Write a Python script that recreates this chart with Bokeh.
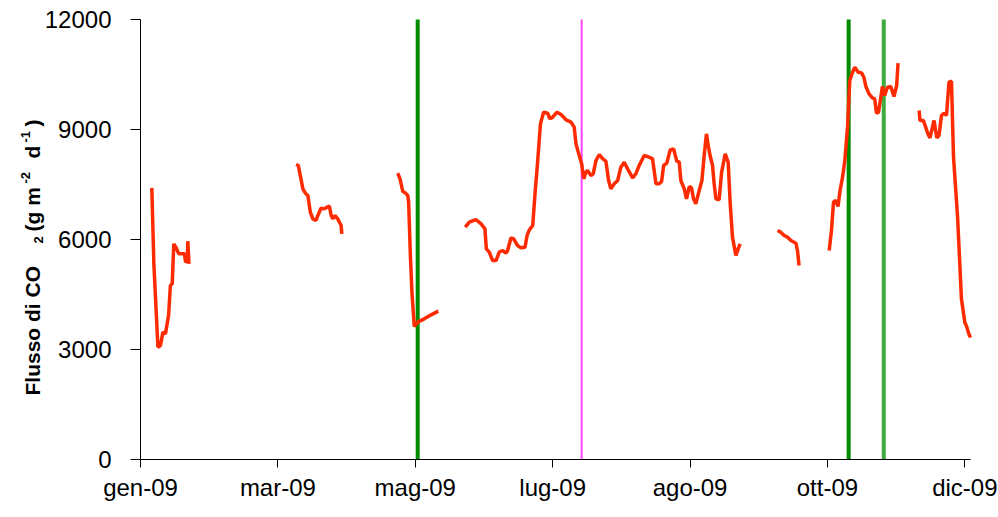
import math
from bokeh.plotting import figure
from bokeh.models import ColumnDataSource, FixedTicker, Label, Range1d
from bokeh.embed import file_html
from bokeh.resources import INLINE

NaN = float("nan")

# Daily CO2 flux, days counted from 1 Jan 2009; NaN marks gaps in the record
flux_day = [
    5.0, 5.9, 7.7, 8.8, 9.9, 11.0, 12.4, 13.2, 14.0, 14.7, 15.8, 16.9, 19.4, 19.9, 20.6, 20.9, 21.4,
    NaN,
    68.7, 69.7, 71.7, 72.8, 73.9, 75.0, 76.1, 77.5, 78.3, 79.7, 81.2, 82.4, 83.4, 84.2, 84.9, 85.9,
    87.1, 87.8, 88.6, 88.9,
    NaN,
    113.6, 114.6, 115.8, 116.9, 118.0, 118.4, 119.2, 119.9, 120.9, 122.4, 125.3, 128.3, 131.5,
    NaN,
    143.4, 145.2, 148.1, 150.4, 152.1, 152.7, 154.0, 155.5, 157.0, 158.4, 159.9, 161.4, 162.1, 163.6,
    164.8, 166.5, 168.0, 169.8, 170.7, 171.7, 173.2, 174.2, 175.4, 176.6, 178.0, 179.8, 180.8, 182.0,
    183.9, 185.7, 187.9, 190.1, 191.5, 192.3, 193.5, 194.8, 195.7, 196.7, 197.4, 198.9, 199.9, 201.1,
    202.6, 204.1, 205.5, 206.7, 207.7, 209.2, 210.7, 212.1, 213.6, 215.1, 217.3, 218.7, 220.2, 222.4,
    224.6, 226.1, 227.6, 229.0, 230.1, 231.0, 232.4, 233.9, 235.4, 236.8, 237.9, 238.6, 240.1, 241.1,
    242.3, 243.3, 244.2, 245.2, 246.7, 247.9, 248.9, 249.9, 250.7, 251.5, 252.6, 253.3, 254.1, 255.5,
    256.6, 258.2, 259.5, 260.4, 261.4, 262.9, 263.9, 264.8,
    NaN,
    281.3, 282.7, 284.2, 285.7, 287.2, 289.4, 290.1, 290.8,
    NaN,
    304.1, 305.1, 306.0, 307.0, 308.0, 308.9, 310.0, 311.0, 312.2, 313.2, 314.4, 315.4, 316.9, 318.4,
    319.5, 320.3, 321.7, 323.2, 324.2, 325.0, 325.9, 326.9, 327.6, 328.6, 329.8, 331.3, 332.7, 333.9,
    334.5,
    NaN,
    343.8, 344.2, 345.7, 346.7, 347.8, 348.6, 350.4, 351.6, 352.6, 353.7, 354.8, 355.9, 357.0, 358.1,
    359.0, 360.8, 362.5, 363.1, 364.0, 364.8, 365.7, 366.5,
]

flux_value = [
    7409, 5337, 3062, 3109, 3472, 3427, 3927, 4745, 4791, 5882, 5773, 5609, 5609, 5381, 5427, 5954, 5337,
    NaN,
    8045, 8018, 7382, 7263, 7200, 6745, 6563, 6518, 6654, 6854, 6836, 6881, 6908, 6654, 6563, 6654,
    6563, 6472, 6382, 6154,
    NaN,
    7808, 7655, 7309, 7273, 7200, 7016, 5517, 4518, 3627, 3745, 3836, 3945, 4045,
    NaN,
    6336, 6472, 6545, 6427, 6291, 5745, 5654, 5427, 5427, 5654, 5699, 5627, 5699, 6046,
    6018, 5836, 5773, 5791, 6109, 6263, 6382, 7245, 8154, 9154, 9472, 9445, 9291, 9336,
    9472, 9409, 9264, 9200, 9064, 8609, 8336, 8063, 7654, 7836, 7881, 7745, 7791, 8154,
    8318, 8200, 8136, 7609, 7382, 7518, 7609, 7972, 8108, 7927, 7682, 7791, 8018, 8291,
    8245, 8200, 7518, 7518, 7582, 8018, 8082, 8445, 8473, 8136, 8108, 7609, 7382, 7109,
    7445, 7409, 7109, 6973, 7336, 7609, 8291, 8882, 8563, 8291, 8018, 7518, 7109, 7082,
    7836, 8336, 8108, 6973, 6063, 5563, 5745, 5882,
    NaN,
    6245, 6200, 6109, 6063, 5973, 5900, 5700, 5291,
    NaN,
    5700, 6245, 7016, 7064, 6900, 7336, 7700, 8154, 9064, 10336, 10563, 10700, 10563, 10545,
    10409, 10172, 9973, 9864, 9836, 9445, 9472, 9882, 10172, 9927, 10154, 10172, 9900, 10200,
    10808,
    NaN,
    9518, 9245, 9245, 9064, 8864, 8773, 9245, 8773, 8836, 9382, 9445, 9382, 10291, 10318,
    8245, 6609, 4382, 4118, 3736, 3627, 3436, 3327,
]

# Management events (days from 1 Jan 2009)
event_days = [122.4, 194.8, 312.7, 328.2]
event_colors = ["#008a00", "#ff44ff", "#008a00", "#3fab3f"]
event_widths = [4, 2, 4, 4]

# Axis ticks
month_ticks = [0, 60.667, 121.333, 182.0, 242.667, 303.333, 364.0]
month_labels = ["gen-09", "mar-09", "mag-09", "lug-09", "ago-09", "ott-09", "dic-09"]
flux_ticks = [0, 3000, 6000, 9000, 12000]

DAY_END, FLUX_TOP = 366.5, 12000
FONT = "Liberation Sans"
W, H = 998, 517

# The frame fills the whole canvas; both axes are pinned at the data origin and
# bounded to the data area, so ticks, labels and the rotated title all fit inside it.
AXIS_LEFT, AXIS_RIGHT, AXIS_TOP, AXIS_BOTTOM = 140, 970, 19, 459
days_per_px = DAY_END / (AXIS_RIGHT - AXIS_LEFT)
flux_per_px = FLUX_TOP / (AXIS_BOTTOM - AXIS_TOP)
x_lo = -AXIS_LEFT * days_per_px
x_hi = DAY_END + (W - AXIS_RIGHT) * days_per_px
y_lo = -(H - AXIS_BOTTOM) * flux_per_px
y_hi = FLUX_TOP + AXIS_TOP * flux_per_px

p = figure(
    width=W, height=H,
    output_backend="svg", toolbar_location=None,
    x_range=Range1d(x_lo, x_hi), y_range=Range1d(y_lo, y_hi),
    min_border=0,
)
p.outline_line_color = None
p.grid.grid_line_color = None
p.background_fill_color = "white"
p.border_fill_color = "white"

for d, c, w in zip(event_days, event_colors, event_widths):
    p.segment(x0=[d], y0=[0], x1=[d], y1=[FLUX_TOP], line_color=c, line_width=w)

src = ColumnDataSource(data=dict(day=flux_day, flux=flux_value))
p.line("day", "flux", source=src, line_color="#ff2b00", line_width=3.5)

xa = p.xaxis[0]
xa.fixed_location = 0
xa.bounds = (0, DAY_END)
xa.ticker = FixedTicker(ticks=month_ticks)
xa.major_label_overrides = {t: l for t, l in zip(month_ticks, month_labels)}
xa.major_tick_out = 8
xa.major_tick_in = 0
xa.minor_tick_line_color = None
xa.major_label_standoff = 6
xa.major_label_text_font = FONT
xa.major_label_text_font_size = "24px"
xa.major_label_text_color = "black"
xa.axis_line_color = "black"
xa.major_tick_line_color = "black"

ya = p.yaxis[0]
ya.fixed_location = 0
ya.bounds = (0, FLUX_TOP)
ya.ticker = FixedTicker(ticks=flux_ticks)
ya.major_tick_out = 10
ya.major_tick_in = 0
ya.minor_tick_line_color = None
ya.major_label_standoff = 19
ya.major_label_text_font = FONT
ya.major_label_text_font_size = "24px"
ya.major_label_text_color = "black"
ya.axis_line_color = "black"
ya.major_tick_line_color = "black"

# Rotated y-axis title with sub- and superscripts (canvas pixel positions -> data units)
title_parts = [
    ("Flusso di CO", 31.5, 395, "21px"),
    ("2", 37.5, 243, "13px"),
    ("(g m", 31.5, 231, "21px"),
    ("-2", 25, 183, "13px"),
    ("d", 31.5, 158, "21px"),
    ("-1", 25, 142, "13px"),
    (")", 31.5, 126, "21px"),
]
for txt, cx, cy, size in title_parts:
    p.add_layout(Label(
        x=x_lo + cx * days_per_px, y=y_lo + (H - cy) * flux_per_px,
        text=txt, angle=math.pi / 2, text_align="left", text_baseline="alphabetic",
        text_font=FONT, text_font_style="bold", text_font_size=size, text_color="black",
    ))

open("out.html", "w").write(file_html(p, INLINE))
